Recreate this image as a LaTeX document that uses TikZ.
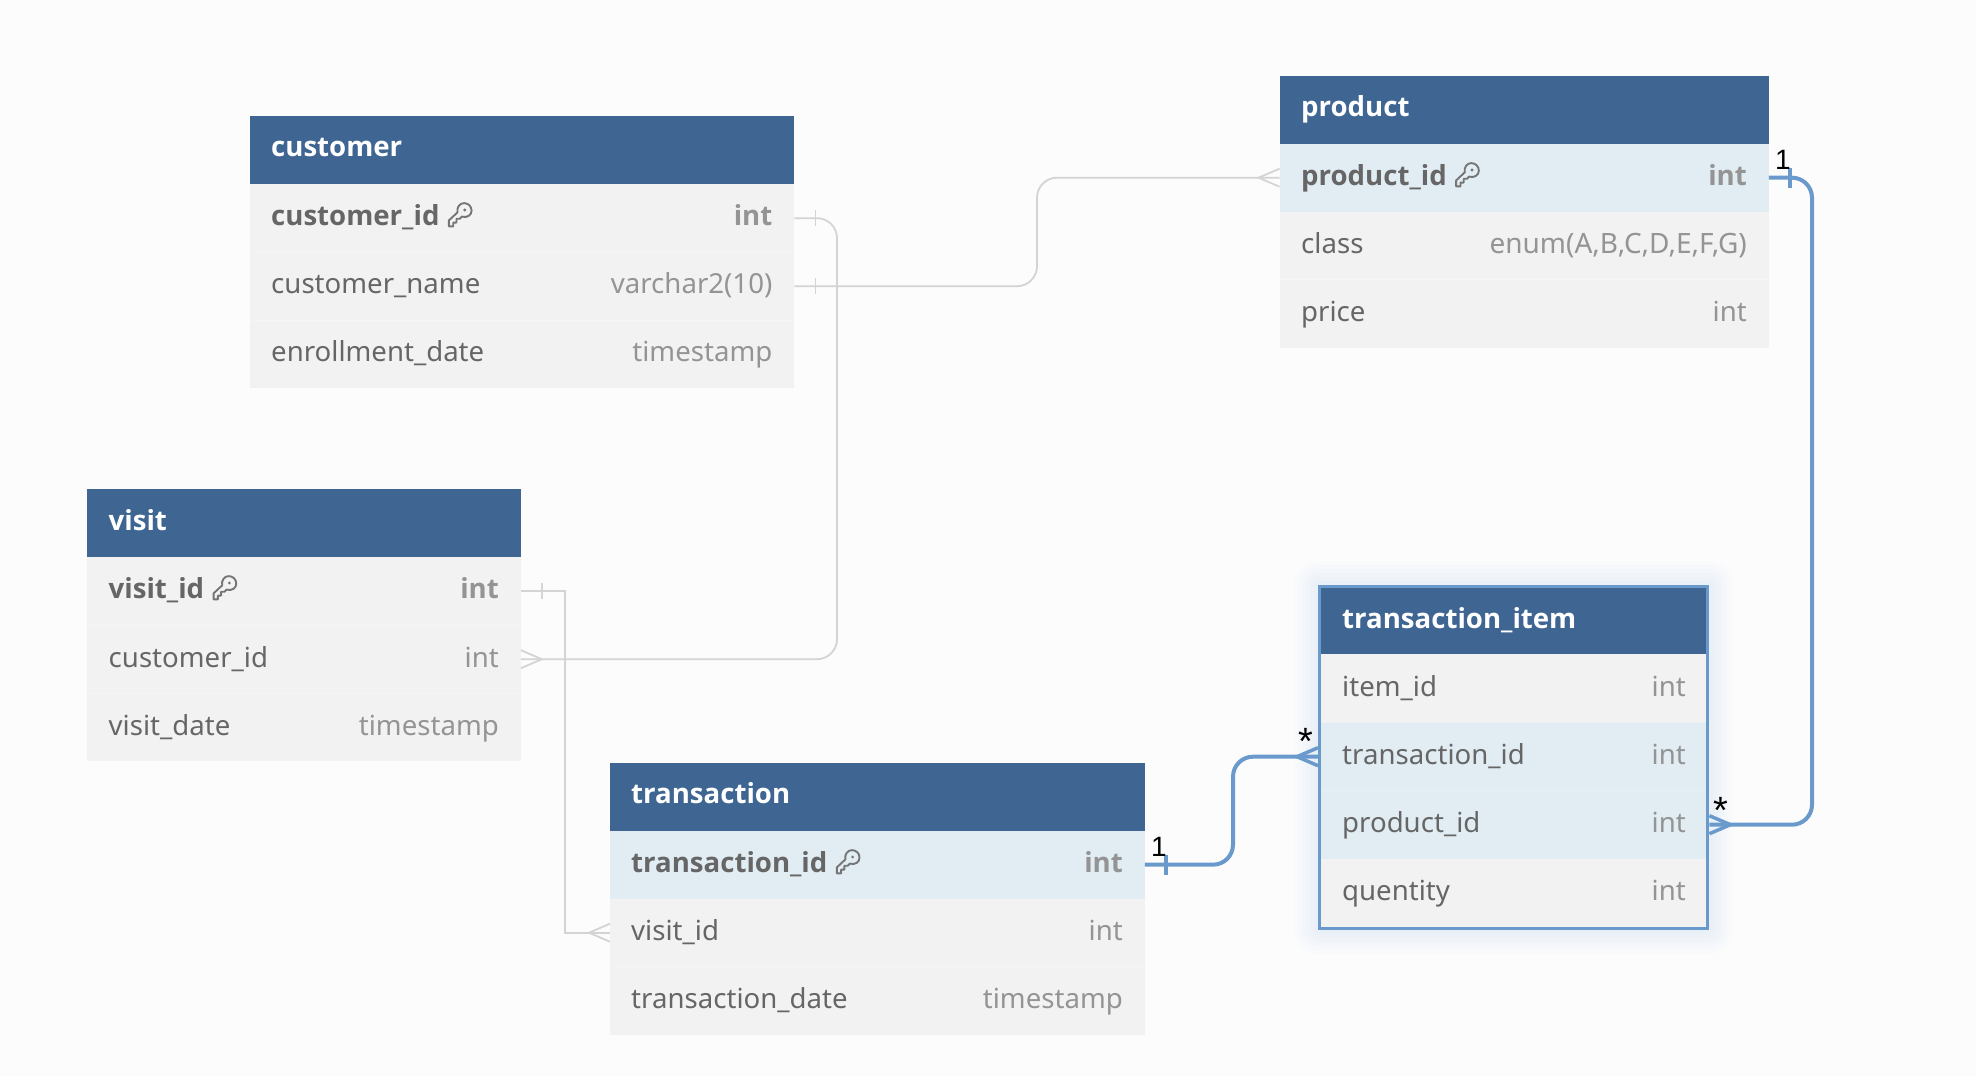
\documentclass[tikz,border=0pt]{standalone}
\usepackage{fontspec}
\setmainfont{Noto Sans}
\newfontfamily\erbold{Open Sans}
\newfontfamily\labfont{Liberation Sans}
\definecolor{bgc}{HTML}{FCFCFD}
\definecolor{headc}{HTML}{3F6593}
\definecolor{rowc}{HTML}{F2F2F2}
\definecolor{selc}{HTML}{E1ECF3}
\definecolor{sepc}{HTML}{F5F5F5}
\definecolor{sepsel}{HTML}{E6EFF5}
\definecolor{namec}{HTML}{666666}
\definecolor{typec}{HTML}{949494}
\definecolor{linec}{HTML}{D4D4D4}
\definecolor{bluec}{HTML}{6A9ACB}
\newcommand{\ersize}{\fontsize{27.6}{34}\selectfont}
\tikzset{
  headbox/.style={anchor=north west,inner sep=0pt,fill=headc,minimum height=68pt},
  rowbox/.style={anchor=north west,inner sep=0pt,fill=rowc,draw=none,minimum height=68pt},
  selbox/.style={rowbox,fill=selc},
  headtext/.style={anchor=base west,inner sep=0pt,text=white,font=\ersize\erbold\bfseries},
  nametext/.style={anchor=base west,inner sep=0pt,text=namec,font=\ersize},
  keytext/.style={nametext,font=\ersize\erbold\bfseries},
  typetext/.style={anchor=base east,inner sep=0pt,text=typec,font=\ersize},
  keytype/.style={typetext,font=\ersize\erbold\bfseries},
  rel/.style={draw=linec,line width=1.8pt,rounded corners=20pt},
  relsq/.style={draw=linec,line width=1.8pt},
  relb/.style={draw=bluec,line width=4pt,rounded corners=20pt},
  mark1/.style={draw=linec,line width=1.8pt},
  markb/.style={draw=bluec,line width=4pt},
  cardlab/.style={inner sep=0pt,text=black,font=\labfont\fontsize{28}{32}\selectfont},
  starlab/.style={inner sep=0pt,text=black,font=\labfont\fontsize{38}{42}\selectfont},
  keyicon/.pic={
    \draw[namec!90,line width=1.9pt,line join=round,scale=1.08]
      (-10,10.5) -- (-10,5) -- (-2,-2.5) .. controls (-3,-7) and (0,-11) .. (4,-11)
      .. controls (8,-11) and (11,-8) .. (11,-4)
      .. controls (11,0) and (7,3) .. (2,1.5) -- (0,3.5) -- (-3,3.5) -- (-3,7) -- (-6,7) -- (-6,10.5) -- cycle;
    \fill[namec!90] (5,-5) circle (1.6);
  }
}
\begin{document}
\begin{tikzpicture}[x=1pt,y=-1pt]
\useasboundingbox (0,0) rectangle (1976,1076);
\fill[bgc] (0,0) rectangle (1976,1076);

% shadow of selected table
\foreach \s in {24,20,...,4}{
  \fill[bluec,opacity=0.015,rounded corners=\s pt] (1318-\s,585-\s) rectangle (1709+\s,930+\s);
}

% customer
\node[headbox,minimum width=544.5pt] (customer) at (249.5,116) {};
\node[headtext] (customert) at (271,156) {customer};
\node[rowbox,minimum width=544.5pt] (c1) at (249.5,184) {};
\node[rowbox,minimum width=544.5pt] (c2) at (249.5,252) {};
\node[rowbox,minimum width=544.5pt] (c3) at (249.5,320) {};
\node[keytext] (c1n) at (271,225) {customer\_id};
\node[nametext] (c2n) at (271,293) {customer\_name};
\node[nametext] (c3n) at (271,361) {enrollment\_date};
\node[keytype] (c1t) at (772.5,225) {int};
\node[typetext] (c2t) at (772.5,293) {varchar2(10)};
\node[typetext] (c3t) at (772.5,361) {timestamp};

% product
\node[headbox,minimum width=489pt] (product) at (1279.5,75.5) {};
\node[headtext] (productt) at (1301,116) {product};
\node[selbox,minimum width=489pt] (p1) at (1279.5,143.5) {};
\node[rowbox,minimum width=489pt] (p2) at (1279.5,211.5) {};
\node[rowbox,minimum width=489pt] (p3) at (1279.5,279.5) {};
\node[keytext] (p1n) at (1301,185) {product\_id};
\node[nametext] (p2n) at (1301,253) {class};
\node[nametext] (p3n) at (1301,321) {price};
\node[keytype] (p1t) at (1747,185) {int};
\node[typetext,font=\fontsize{28}{34}\selectfont] (p2t) at (1747,253) {enum(A,B,C,D,E,F,G)};
\node[typetext] (p3t) at (1747,321) {int};

% visit
\node[headbox,minimum width=433.5pt] (visit) at (87,489) {};
\node[headtext] (visitt) at (108.5,530) {visit};
\node[rowbox,minimum width=433.5pt] (v1) at (87,557) {};
\node[rowbox,minimum width=433.5pt] (v2) at (87,625) {};
\node[rowbox,minimum width=433.5pt] (v3) at (87,693) {};
\node[keytext] (v1n) at (108.5,598) {visit\_id};
\node[nametext] (v2n) at (108.5,667) {customer\_id};
\node[nametext] (v3n) at (108.5,735) {visit\_date};
\node[keytype] (v1t) at (499,598) {int};
\node[typetext] (v2t) at (499,667) {int};
\node[typetext] (v3t) at (499,735) {timestamp};

% transaction
\node[headbox,minimum width=534.5pt] (transaction) at (610,762.5) {};
\node[headtext] (transactiont) at (631,803) {transaction};
\node[selbox,minimum width=534.5pt] (t1) at (610,830.5) {};
\node[rowbox,minimum width=534.5pt] (t2) at (610,898.5) {};
\node[rowbox,minimum width=534.5pt] (t3) at (610,966.5) {};
\node[keytext] (t1n) at (631,872) {transaction\_id};
\node[nametext] (t2n) at (631,940) {visit\_id};
\node[nametext] (t3n) at (631,1008) {transaction\_date};
\node[keytype] (t1t) at (1123,872) {int};
\node[typetext] (t2t) at (1123,940) {int};
\node[typetext] (t3t) at (1123,1008) {timestamp};

% transaction_item
\node[headbox,minimum width=391pt,minimum height=69pt] (item) at (1318,585) {};
\node[headtext] (itemt) at (1342,628) {transaction\_item};
\node[rowbox,minimum width=391pt] (i1) at (1318,654) {};
\node[selbox,minimum width=391pt] (i2) at (1318,722.5) {};
\node[selbox,minimum width=391pt] (i3) at (1318,790.5) {};
\node[rowbox,minimum width=391pt,minimum height=71.5pt] (i4) at (1318,858.5) {};
\node[nametext] (i1n) at (1342,696) {item\_id};
\node[nametext] (i2n) at (1342,764) {transaction\_id};
\node[nametext] (i3n) at (1342,832) {product\_id};
\node[nametext] (i4n) at (1342,900) {quentity};
\node[typetext] (i1t) at (1686,696) {int};
\node[typetext] (i2t) at (1686,764) {int};
\node[typetext] (i3t) at (1686,832) {int};
\node[typetext] (i4t) at (1686,900) {int};
\draw[bluec,line width=3pt] ([xshift=1.5pt,yshift=-1.5pt]item.north west) rectangle ([xshift=-1.5pt,yshift=1.5pt]i4.south east);

% row separators
\foreach \a in {c1,c2,p2,v1,v2,t2}{
  \draw[sepc,line width=1pt] (\a.south west) -- (\a.south east);
}
\draw[sepsel,line width=1pt] ([xshift=3pt]i2.south west) -- ([xshift=-3pt]i2.south east);

% key icons
\pic at ([xshift=20pt,yshift=10pt]c1n.base east) {keyicon};
\pic at ([xshift=20pt,yshift=10pt]p1n.base east) {keyicon};
\pic at ([xshift=20pt,yshift=10pt]v1n.base east) {keyicon};
\pic at ([xshift=20pt,yshift=10pt]t1n.base east) {keyicon};

% route coordinates
\coordinate (r1) at (837,0);
\coordinate (r2) at (1037,0);
\coordinate (r3) at (565,0);
\coordinate (r4) at (1812,0);
\coordinate (r5) at (1233,0);

% grey connectors
\draw[rel] (c1.east) -- (c1.east -| r1) -- (v2.east -| r1) -- (v2.east);
\draw[rel] (c2.east) -- (c2.east -| r2) -- (p1.west -| r2) -- (p1.west);
\draw[relsq] (v1.east) -- (v1.east -| r3) -- (t2.west -| r3) -- (t2.west);
% blue connectors
\draw[relb] (p1.east) -- (p1.east -| r4) -- (i3.east -| r4) -- (i3.east);
\draw[relb] (t1.east) -- (t1.east -| r5) -- (i2.west -| r5) -- (i2.west);

% one-marks
\draw[mark1] ([xshift=21pt,yshift=8pt]c1.east) -- ++(0,16);
\draw[mark1] ([xshift=21pt,yshift=8pt]c2.east) -- ++(0,16);
\draw[mark1] ([xshift=21pt,yshift=8pt]v1.east) -- ++(0,16);
\draw[markb] ([xshift=21pt,yshift=10pt]p1.east) -- ++(0,20);
\draw[markb] ([xshift=21pt,yshift=10pt]t1.east) -- ++(0,20);

% crow feet
\draw[mark1] ([yshift=-9pt]v2.east) -- ([xshift=21pt]v2.east) -- ([yshift=9pt]v2.east);
\draw[mark1] ([yshift=-9pt]t2.west) -- ([xshift=-21pt]t2.west) -- ([yshift=9pt]t2.west);
\draw[mark1] ([yshift=-9pt]p1.west) -- ([xshift=-21pt]p1.west) -- ([yshift=9pt]p1.west);
\draw[markb,line width=3.5pt] ([yshift=-9pt]i2.west) -- ([xshift=-21pt]i2.west) -- ([yshift=9pt]i2.west);
\draw[markb,line width=3.5pt] ([yshift=-9pt]i3.east) -- ([xshift=21pt]i3.east) -- ([yshift=9pt]i3.east);

% cardinalities
\node[cardlab] (l1) at (1159,847) {1};
\node[cardlab] (l2) at (1783,160) {1};
\node[starlab] (l3) at (1306,741) {*};
\node[starlab] (l4) at (1721,810) {*};
\end{tikzpicture}
\end{document}
